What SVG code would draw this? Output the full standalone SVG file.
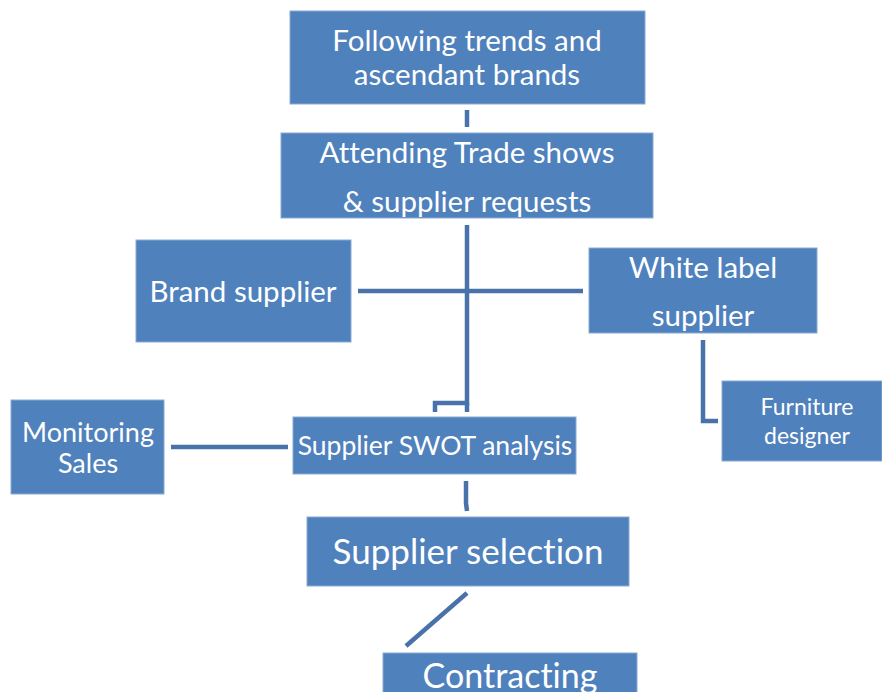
<svg xmlns="http://www.w3.org/2000/svg" width="882" height="692" viewBox="0 0 882 692">
<style>
.box{fill:#4f81bd;stroke:#8aa9d4;stroke-width:1}
.t{fill:#ffffff;font-family:Lato,"Open Sans","Liberation Sans",sans-serif;text-anchor:middle;dominant-baseline:central;font-variant-ligatures:none}
.c{stroke:#4a72aa;stroke-width:4.5;fill:none}
</style>
<rect width="882" height="692" fill="#ffffff"/>
<g id="connectors">
<line class="c" x1="467" y1="110" x2="467" y2="127"/>
<polyline class="c" points="467,225 467,403 435,403 435,412"/>
<line class="c" x1="467" y1="403" x2="467" y2="412"/>
<line class="c" x1="358" y1="291" x2="583" y2="291"/>
<polyline class="c" points="703,340 703,421 718,421"/>
<line class="c" x1="171" y1="447" x2="288" y2="447"/>
<polyline class="c" points="466,481 466,503 467,511"/>
<line class="c" x1="467" y1="593" x2="406" y2="646"/>
</g>
<g id="following">
<rect class="box" x="290" y="11" width="355" height="93"/>
<text class="t" x="467" y="39" font-size="29.5">Following trends and</text>
<text class="t" x="467" y="73" font-size="29.5">ascendant brands</text>
</g>
<g id="attending">
<rect class="box" x="281" y="133" width="372" height="85"/>
<text class="t" x="467" y="151" font-size="29.5">Attending Trade shows</text>
<text class="t" x="467" y="200" font-size="29.5">&amp; supplier requests</text>
</g>
<g id="brand">
<rect class="box" x="136" y="240" width="215" height="102"/>
<text class="t" x="243" y="290" font-size="29.5">Brand supplier</text>
</g>
<g id="whitelabel">
<rect class="box" x="589" y="248" width="228" height="85"/>
<text class="t" x="703" y="266" font-size="29.5">White label</text>
<text class="t" x="703" y="314" font-size="29.5">supplier</text>
</g>
<g id="furniture">
<rect class="box" x="722" y="381" width="160" height="80"/>
<text class="t" x="807" y="406" font-size="23">Furniture</text>
<text class="t" x="807" y="435" font-size="23">designer</text>
</g>
<g id="monitoring">
<rect class="box" x="11" y="400" width="153" height="94"/>
<text class="t" x="88" y="431" font-size="27">Monitoring</text>
<text class="t" x="88" y="462" font-size="27">Sales</text>
</g>
<g id="swot">
<rect class="box" x="293" y="417" width="283" height="57"/>
<text class="t" x="435" y="445" font-size="26.5">Supplier SWOT analysis</text>
</g>
<g id="selection">
<rect class="box" x="307" y="517" width="322" height="69"/>
<text class="t" x="468" y="550" font-size="35">Supplier selection</text>
</g>
<g id="contracting">
<rect class="box" x="383" y="653" width="254" height="50"/>
<text class="t" x="510" y="674" font-size="34">Contracting</text>
</g>
</svg>
